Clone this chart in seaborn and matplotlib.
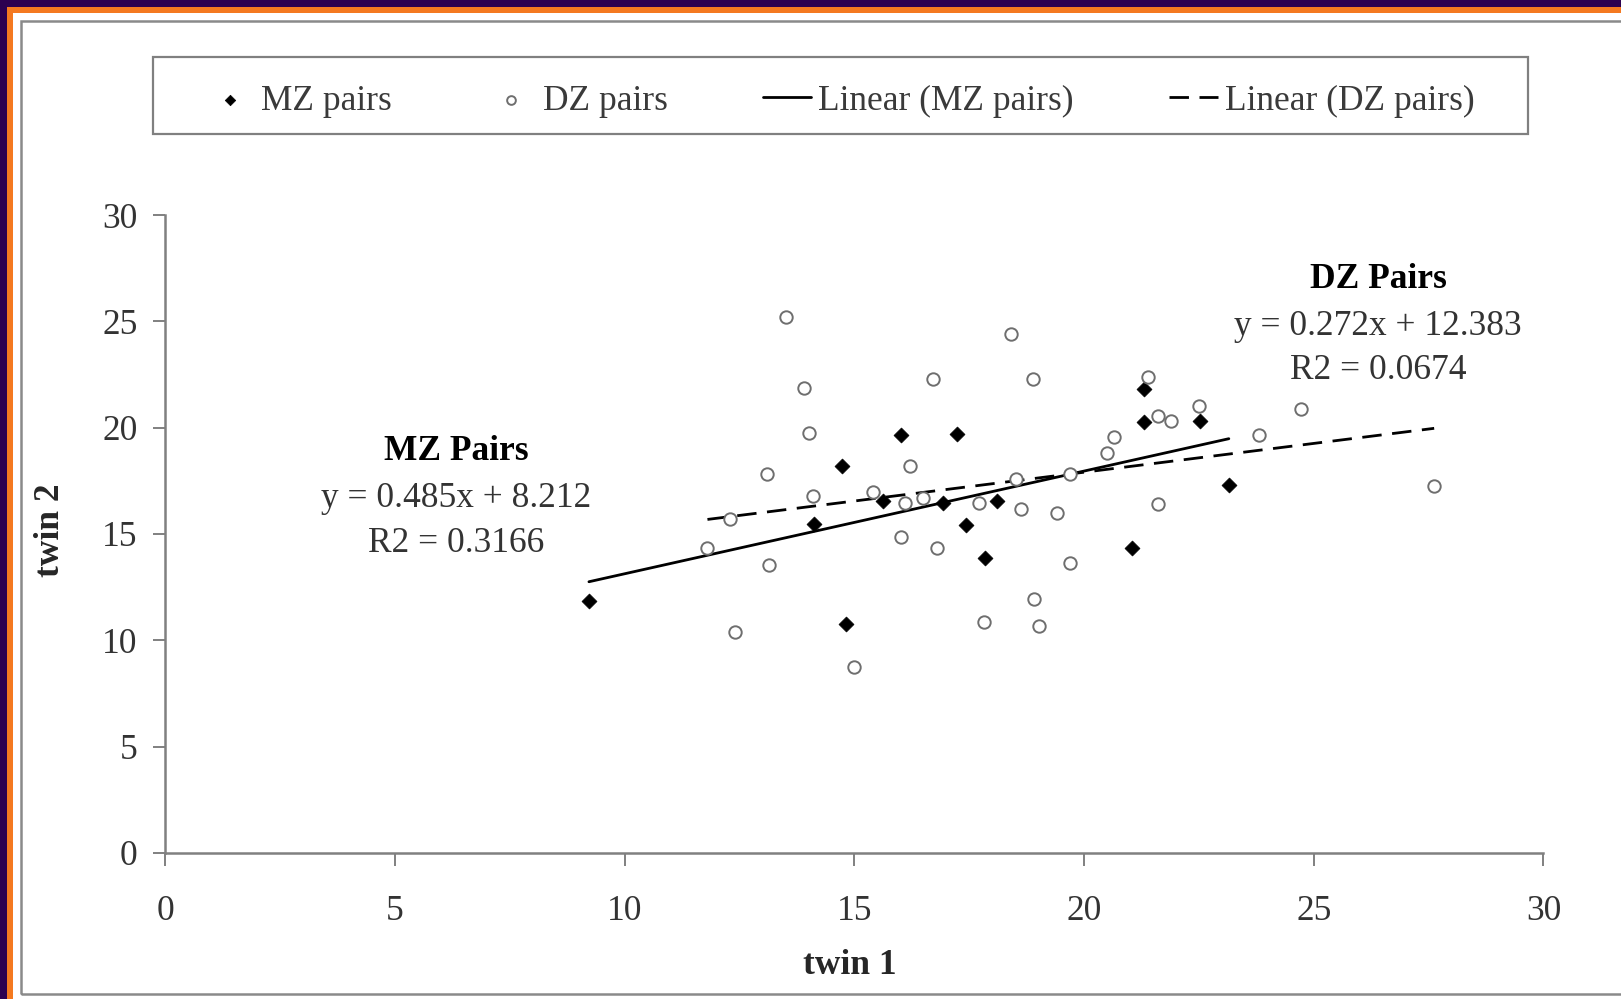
import matplotlib
matplotlib.use("Agg")
import matplotlib.pyplot as plt
from matplotlib.patches import Rectangle
import pandas as pd
import seaborn as sns

# twin scores
mz_twin1 = [9.22, 14.73, 14.12, 14.81, 15.63, 16.01, 17.23, 16.92, 18.11, 17.42,
            17.84, 21.05, 21.30, 21.30, 22.52, 23.15]
mz_twin2 = [11.86, 18.21, 15.46, 10.78, 16.55, 19.66, 19.69, 16.47, 16.57, 15.42,
            13.89, 14.36, 21.84, 20.28, 20.33, 17.30]

dz_twin1 = [13.51, 13.90, 14.00, 13.10, 14.09, 15.41, 12.29, 11.80, 13.15, 12.41,
            14.99, 18.41, 16.72, 18.89, 21.40, 22.51, 21.60, 21.90, 20.66, 20.49,
            16.22, 18.51, 19.69, 16.11, 16.50, 17.71, 18.62, 19.42, 21.60, 16.01,
            16.80, 19.69, 18.90, 17.82, 19.01, 23.81, 24.73, 27.62]
dz_twin2 = [25.19, 21.88, 19.77, 17.81, 16.80, 16.98, 15.69, 14.33, 13.54, 10.40,
            8.74, 24.39, 22.27, 22.27, 22.40, 21.02, 20.57, 20.31, 19.56, 18.80,
            18.21, 17.59, 17.81, 16.47, 16.68, 16.47, 16.16, 16.00, 16.40, 14.87,
            14.36, 13.65, 11.94, 10.85, 10.69, 19.66, 20.88, 17.26]

legend_labels = ["MZ pairs", "DZ pairs", "Linear (MZ pairs)", "Linear (DZ pairs)"]
mz_note = ["MZ Pairs", "y = 0.485x + 8.212", "R2 = 0.3166"]
dz_note = ["DZ Pairs", "y = 0.272x + 12.383", "R2 = 0.0674"]
ticks = [0, 5, 10, 15, 20, 25, 30]

mz = pd.DataFrame({"twin1": mz_twin1, "twin2": mz_twin2})
dz = pd.DataFrame({"twin1": dz_twin1, "twin2": dz_twin2})

sns.set_style("white")
plt.rcParams["font.family"] = ["Liberation Serif", "DejaVu Serif"]

W, H = 1621, 999
fig = plt.figure(figsize=(W / 100, H / 100), dpi=100)
fig.patch.set_facecolor("white")

# slide frame
purple = "#2c0050"
orange = "#f47920"
frame = "#8a8a8a"
def px_rect(x0, y0, x1, y1, **kw):
    fig.add_artist(Rectangle((x0 / W, 1 - y1 / H), (x1 - x0) / W, (y1 - y0) / H,
                             transform=fig.transFigure, **kw))

px_rect(0, 0, W, 7, color=purple, lw=0)
px_rect(0, 0, 7, H, color=purple, lw=0)
px_rect(7, 7, W, 13, color=orange, lw=0)
px_rect(7, 7, 13, H, color=orange, lw=0)
px_rect(20.5, 20.5, W + 5, 994, fill=False, edgecolor=frame, lw=1.8)

ax = fig.add_axes([165.4 / W, 1 - 852.9 / H, 1378.1 / W, 637.9 / H])

sns.regplot(data=mz, x="twin1", y="twin2", ax=ax, ci=None, truncate=True,
            marker="D", color="black",
            scatter_kws={"s": 58, "color": "black", "edgecolor": "black",
                         "linewidths": 0.5, "alpha": 1, "zorder": 3},
            line_kws={"color": "black", "lw": 2.0, "zorder": 2})
mz_pts = ax.collections[-1]
mz_line = ax.lines[-1]

sns.regplot(data=dz, x="twin1", y="twin2", ax=ax, ci=None, truncate=True,
            marker="o", color="black",
            scatter_kws={"s": 80, "facecolor": "white", "edgecolor": "#6e6e6e",
                         "linewidths": 1.4, "alpha": 1, "zorder": 3},
            line_kws={"color": "black", "lw": 2.0, "ls": (0, (7, 3.8)), "zorder": 2})
dz_pts = ax.collections[-1]
dz_line = ax.lines[-1]

ax.set_xlim(0, 30)
ax.set_ylim(0, 30)
ax.set_xticks(ticks)
ax.set_yticks(ticks)
sns.despine(ax=ax)
for side in ["left", "bottom"]:
    ax.spines[side].set_color("#808080")
    ax.spines[side].set_linewidth(1.8)
ax.tick_params(axis="both", direction="out", length=9, width=1.4, color="#808080",
               labelsize=25.5, labelcolor="#333333", bottom=True, left=True)
ax.tick_params(axis="x", pad=21)
ax.tick_params(axis="y", pad=11)

ax.set_xlabel("twin 1", fontsize=25.5, fontweight="bold", va="center")
ax.set_ylabel("twin 2", fontsize=25.5, fontweight="bold", va="center")
ax.xaxis.set_label_coords(0.4968, -0.1773)
ax.yaxis.set_label_coords(-0.0837, 0.506)

# trendline equations
for txt, yy in zip(mz_note, [18.86, 16.69, 14.53]):
    ax.text(6.33, yy, txt, ha="center", va="center", fontsize=25.5,
            color="black" if "Pairs" in txt else "#333333",
            fontweight="bold" if "Pairs" in txt else "normal")
for txt, yy in zip(dz_note, [26.98, 24.77, 22.70]):
    ax.text(26.4, yy, txt, ha="center", va="center", fontsize=25.5,
            color="black" if "Pairs" in txt else "#333333",
            fontweight="bold" if "Pairs" in txt else "normal")

# legend across the top
px_rect(153, 57, 1528, 134, fill=False, edgecolor="#808080", lw=1.6)
leg = ax.legend([mz_pts, dz_pts, mz_line, dz_line], legend_labels,
                loc="center", bbox_to_anchor=(840 / W, 1 - 101 / H),
                bbox_transform=fig.transFigure, ncol=4, frameon=False,
                fontsize=25.5, handlelength=1.36, handletextpad=0.2,
                columnspacing=2.7, scatterpoints=1, markerscale=0.7)
for t in leg.get_texts():
    t.set_color("#3a3a3a")

fig.savefig("out.png", dpi=100)
